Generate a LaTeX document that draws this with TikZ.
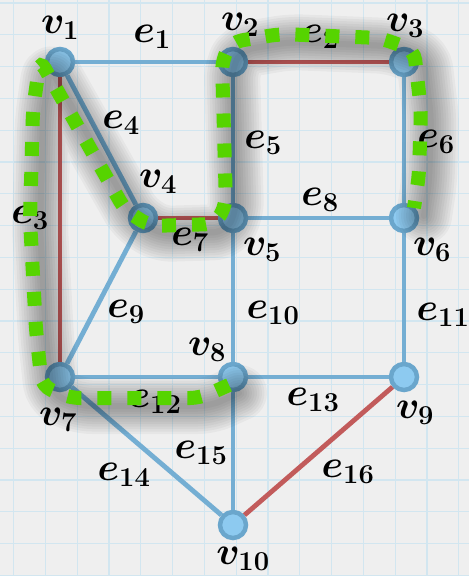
\RequirePackage{fix-cm}
\documentclass[tikz,border=0pt]{standalone}
\usepackage{amsmath}
\usepackage{xcolor}
\usepackage{tikz}

\definecolor{paper}{HTML}{EFEFEF}
\definecolor{gridblue}{HTML}{D2E6F0}
\definecolor{edgeblue}{HTML}{74AED3}
\definecolor{vfill}{HTML}{8DCAF0}
\definecolor{vline}{HTML}{6AA6CC}
\definecolor{edgered}{HTML}{C25B5B}
\definecolor{hlgreen}{HTML}{56D400}

\begin{document}
\begin{tikzpicture}[
 x=1pt,y=-1pt,
 vtx/.style={circle,draw=vline,fill=vfill,line width=4.5pt,minimum size=26pt,inner sep=0pt},
 edge/.style={draw=edgeblue,line width=4.8pt},
 redge/.style={draw=edgered,line width=4.8pt},
 lbl/.style={inner sep=0pt,font=\fontsize{39}{44}\selectfont\boldmath},
 hl/.style={draw=hlgreen,line width=14pt,dash pattern=on 14pt off 16pt,rounded corners=10pt}
]
\useasboundingbox (0,0) rectangle (469,576);
\fill[paper] (0,0) rectangle (469,576);
\foreach \i in {0,...,14} \draw[gridblue,line width=1.2pt] (13.5+31.8*\i,0) -- (13.5+31.8*\i,576);
\foreach \j in {0,...,18} \draw[gridblue,line width=1.2pt] (0,3+31.8*\j) -- (469,3+31.8*\j);

% vertices
\node[vtx] (v1) at (60,62) {};
\node[vtx] (v2) at (233,62) {};
\node[vtx] (v3) at (404,62) {};
\node[vtx] (v4) at (143,218) {};
\node[vtx] (v5) at (233,218) {};
\node[vtx] (v6) at (404,218) {};
\node[vtx] (v7) at (60,377) {};
\node[vtx] (v8) at (233,377) {};
\node[vtx] (v9) at (404,377) {};
\node[vtx] (v10) at (233,525) {};

% edges
\draw[edge] (v1)--(v2);
\draw[redge] (v2)--(v3);
\draw[redge] (v1)--(v7);
\draw[edge] (v1)--(v4);
\draw[edge] (v2)--(v5);
\draw[edge] (v3)--(v6);
\draw[redge] (v4)--(v5);
\draw[edge] (v5)--(v6);
\draw[edge] (v4)--(v7);
\draw[edge] (v5)--(v8);
\draw[edge] (v6)--(v9);
\draw[edge] (v7)--(v8);
\draw[edge] (v8)--(v9);
\draw[edge] (v7)--(v10);
\draw[edge] (v8)--(v10);
\draw[redge] (v9)--(v10);

% labels
\node[lbl] (lv1) at (60,28) {$v_1$};
\node[lbl] (lv2) at (240,25) {$v_2$};
\node[lbl] (lv3) at (405,26) {$v_3$};
\node[lbl] (lv4) at (158,182) {$v_4$};
\node[lbl] (lv5) at (262,250) {$v_5$};
\node[lbl] (lv6) at (432,250) {$v_6$};
\node[lbl] (lv7) at (58,420) {$v_7$};
\node[lbl] (lv8) at (207,350) {$v_8$};
\node[lbl] (lv9) at (415,413) {$v_9$};
\node[lbl] (lv10) at (243,559) {$v_{10}$};
\node[lbl] (le1) at (152,37) {$e_1$};
\node[lbl] (le2) at (320,37) {$e_2$};
\node[lbl] (le3) at (30,218) {$e_3$};
\node[lbl] (le4) at (121,123) {$e_4$};
\node[lbl] (le5) at (263,143) {$e_5$};
\node[lbl] (le6) at (436,142) {$e_6$};
\node[lbl] (le7) at (190,240) {$e_7$};
\node[lbl] (le8) at (320,200) {$e_8$};
\node[lbl] (le9) at (126,312) {$e_9$};
\node[lbl] (le10) at (273,313) {$e_{10}$};
\node[lbl] (le11) at (443,315) {$e_{11}$};
\node[lbl] (le12) at (155,402) {$e_{12}$};
\node[lbl] (le13) at (313,400) {$e_{13}$};
\node[lbl] (le14) at (124,475) {$e_{14}$};
\node[lbl] (le15) at (201,453) {$e_{15}$};
\node[lbl] (le16) at (348,472) {$e_{16}$};

% highlighted walk with its shadow
\def\walk{(229,385) -- (200,398) -- (70,398) -- (42,386) -- (36,330) -- (30,220) -- (33,110) -- (40,60)
 -- (125,210) -- (150,226) -- (215,224) -- (226,205) -- (222,60) -- (232,42) -- (280,34)
 -- (380,38) -- (414,50) -- (421,110) -- (419,175) -- (414,208)}
\foreach \w in {6,11,...,56}
 \draw[black,opacity=0.035,line width=\w pt,line join=round,line cap=round,rounded corners=12pt,shift={(10,8)}] \walk;
\draw[hl] \walk;
\end{tikzpicture}
\end{document}
